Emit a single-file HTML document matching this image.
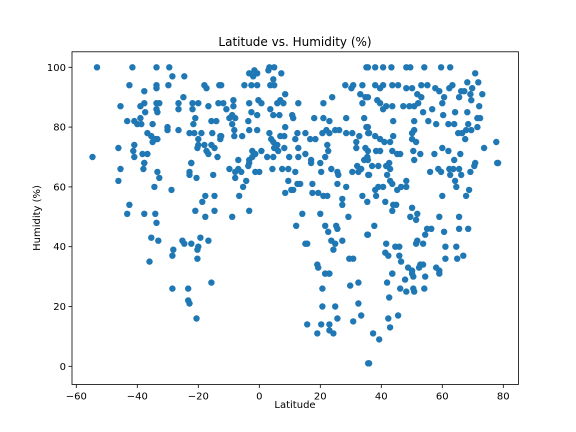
<!DOCTYPE html>
<html><head><meta charset="utf-8"><style>
html,body{margin:0;padding:0;background:#fff;}
svg{display:block;font-family:"DejaVu Sans","Liberation Sans",sans-serif;}
</style></head><body>
<svg id="chart" width="576" height="432" viewBox="0 0 576 432">
<rect x="0" y="0" width="576" height="432" fill="#fff"/>
<text x="295" y="46" text-anchor="middle" font-size="12" fill="#000">Latitude vs. Humidity (%)</text>
<text x="295" y="408" text-anchor="middle" font-size="10" fill="#000">Latitude</text>
<text x="0" y="0" transform="translate(40,218) rotate(-90)" text-anchor="middle" font-size="10" fill="#000">Humidity (%)</text>
<g id="points"></g>
<g id="axes"></g>
</svg>
<script>
const xTicks = [-60,-40,-20,0,20,40,60,80];
const yTicks = [0,20,40,60,80,100];
const lats = [
-53.2,-41.6,-33.7,-29.5,-28.5,-24.6,-42.6,-33.7,-33.7,-29.8,-37.7,-18,-17.3,-13.1,-24.9,-45.5,-39,-37.7,-33.7,-32.8,-33.7,-33.4,-37.4,-26.5,-26.5,-21.9,-20,-21.9,-16.7,-13.4,-43.3,-41,-39,-40,-38.7,-35,-21,-21.6,-15.7,-14.1,-30.1,-30.1,-26.5,-36.7,-35.4,-34.1,-35,-33.4,-22.9,-21.3,-19,-20,-20,-18,-15.4,-15.7,-12.8,-12.8,-46.2,-41,-41.3,-38.3,-36.7,-54.7,-41,-20.3,-17.3,-16.7,-14.7,-13.7,-37.7,-22.3,
-1.6,-3.3,-0.7,-2,3.3,4.9,3,7.2,4.6,-4.9,-2.6,-0.7,3.6,4.9,35.1,28.2,30.8,33.8,30.2,-12.5,8.5,6.9,5.9,7.9,-0.3,0.7,-3.3,-8.5,-8.5,-11.8,-10.8,12.8,23.9,21,33.1,33.8,34.8,3.6,4.6,6.6,-2.6,-0.7,-8.9,-9.8,-7.9,-8.9,-3.6,10.8,11.1,18,21,23,28.5,34.4,8.5,-8.2,-3.3,-0.7,-12.5,-8.2,-5.6,3.3,6.9,8.2,12.5,15.1,11.8,16.7,18.4,20.7,22,23,24.9,26.2,28.5,30.5,32.8,35.1,35.7,3.9,4.6,5.9,4.9,6.2,8.2,12.8,15.1,22.3,22.6,31.8,31.8,34.8,-2.3,-1.3,0.7,2.6,4.6,9.8,12.8,17,21.6,-6.9,-3.3,-2.3,35.4,34.4,
35.6,38,40.6,43.3,48.2,49.5,54.1,59.6,62.6,70.8,68.2,71.8,69.8,38,40.6,39.6,43.6,45.5,48.2,50.1,53.1,55.1,57.7,59,62.3,63.3,66.2,67.2,69.2,73.1,65.5,69.5,35.6,38.7,39.6,41.6,40.6,43.6,47.2,49.2,50.8,52.1,53.1,51.8,60,60.6,53.7,56.7,60.3,64.2,68.2,72.1,71.5,72.4,43.9,50.8,55.4,58,62,63.9,68.5,71.5,35.6,36,38,39.6,41,42.9,43.9,50.8,50.1,50.1,51.4,65.2,66.5,67.8,69.5,67.5,77.7,73.7,38.3,39.6,43.6,45.2,46.2,50.5,52.8,57.4,60,62,65.9,63.9,50.8,42.6,78,70.8,35.6,35.6,
-45.5,-46.2,-38,-37.7,-33.4,-32.8,-34.4,-28.8,-22.3,-22.9,-22.9,-20.6,-15.1,-17.7,-14.7,-18.7,-42.6,-43.3,-37.7,-34.1,-33.7,-21,-14.7,-17.7,-35.4,-33.1,-25.2,-24.6,-22.3,-19.3,-16.7,-20,-20.3,-28.2,-28.5,-20.3,-36,
-9.8,-7.9,-6.9,-5.9,-7.9,-3.6,-3.3,-1.3,0,4.3,7.5,9.5,11.8,-4.3,-5.3,-6.6,9.5,12.5,13.4,10.5,11.1,8.5,17.4,17.4,19.3,21,22.3,17,20,20.3,23.6,25.6,25.9,25.6,28.5,27.2,27.2,30.5,32.1,33.4,32.5,35.7,33.8,35.4,-8.9,-3.3,14.1,20,12.1,21.6,22.6,25.2,25.6,29.2,23.6,24.9,27.2,24.3,15.7,15.1,35.4,29.5,30.8,19,19.3,21.6,22.9,
37,39,41.6,42.9,41.9,42.9,43.6,40.6,39,38,38.3,36,45.2,46.5,48.2,48.2,56,58.7,59.6,62.3,63.6,65.5,62.6,66.2,69.2,70.5,78.3,64.2,64.6,68.8,67.8,60,41.3,43.9,44.9,43.6,50.1,49.5,51.8,51.4,59,65.5,37.7,35.6,55,56.4,54.4,60.6,65.5,68.5,41.6,44.6,45.9,51.8,51.4,53.7,61,64.6,41.3,42.3,45.9,46.5,61,64.9,66.9,43.6,48.8,50.1,52.8,53.7,52.4,58,59,
-28.5,-23.3,-15.7,-23.3,-22.9,-20.6,
21.6,23,20.7,29.8,32.5,20.7,24.9,32.5,25.6,33.4,30.8,15.7,20.3,23,19,23,24.3,35.7,
43.6,41.9,47.8,50.1,50.5,54.4,59,46.2,48.2,50.5,50.8,54.1,42.6,42.3,45.5,42.9,37.3,39.3,36
];
const humidity = [
100,100,100,100,97,97,94,94,93,94,92,94,93,94,90,87,87,88,88,88,86,85,85,88,86,88,88,86,87,88,82,82,83,81,81,81,83,81,82,82,80,79,79,78,77,76,75,76,78,78,78,76,74,74,78,74,77,76,73,74,72,71,71,70,70,73,72,71,73,70,68,68,
99,98,98,97,100,100,99,98,96,94,94,94,94,94,100,94,94,94,93,94,91,89,88,88,89,88,88,89,87,88,86,88,90,88,91,88,90,86,84,84,85,84,84,83,83,81,82,84,83,83,83,82,83,83,80,79,79,79,77,77,77,78,77,77,78,78,76,76,76,78,79,78,79,79,78,78,77,80,78,76,75,74,73,72,73,73,71,74,72,75,73,73,72,71,72,70,70,70,70,69,70,69,69,70,70,69,
100,100,100,100,100,100,100,100,100,98,95,95,93,94,94,93,94,94,93,93,94,94,93,92,93,94,92,92,91,91,90,89,90,89,88,87,86,87,87,87,87,88,90,91,88,90,85,86,84,85,85,87,83,83,82,82,82,81,81,81,81,80,80,78,77,76,75,75,77,79,78,76,75,78,78,79,79,76,75,73,72,72,72,71,71,72,71,71,73,72,71,69,69,68,68,68,72,69,
66,62,66,68,65,63,60,59,68,65,64,63,64,57,57,55,54,51,51,51,48,52,52,50,43,42,42,41,41,43,42,40,39,39,37,36,35,
66,65,66,65,63,67,68,65,65,66,66,66,65,62,60,57,62,61,61,59,59,58,61,58,58,57,57,68,68,65,66,65,64,61,60,56,54,65,67,66,65,64,57,55,50,52,51,51,47,47,45,47,46,50,42,41,42,39,41,41,44,36,36,34,33,31,31,
67,67,67,66,64,62,61,60,60,59,57,64,59,60,60,62,65,66,65,66,66,66,64,64,65,67,68,62,60,59,57,57,55,54,54,52,53,50,51,49,50,50,47,44,46,46,44,45,46,46,41,40,40,42,41,41,40,40,38,37,37,35,36,36,37,31,33,32,34,34,33,33,32,
26,26,28,22,21,16,
31,31,26,27,28,20,20,21,16,17,15,14,14,14,11,12,11,1,
31,28,29,31,30,30,31,26,25,26,25,26,23,16,17,13,11,9,1
];
const NS='http://www.w3.org/2000/svg';
const X0=72, X1=518.4, Y0=51.8, Y1=384.5;
function xScale(v){return 259.3+3.05*v;}
function yScale(v){return 366.3-2.99*v;}
const pg=document.getElementById('points');
for(let i=0;i<Math.min(lats.length,humidity.length);i++){
  const c=document.createElementNS(NS,'circle');
  c.setAttribute('cx',xScale(lats[i]).toFixed(1));
  c.setAttribute('cy',yScale(humidity[i]).toFixed(1));
  c.setAttribute('r','3.2');
  c.setAttribute('fill','#1f77b4');
  
  
  pg.appendChild(c);
}
const ag=document.getElementById('axes');
const frame=document.createElementNS(NS,'rect');
frame.setAttribute('x',X0);frame.setAttribute('y',Y0);
frame.setAttribute('width',X1-X0);frame.setAttribute('height',Y1-Y0);
frame.setAttribute('fill','none');frame.setAttribute('stroke','#000');frame.setAttribute('stroke-width','0.8');


ag.appendChild(frame);
xTicks.forEach(t=>{
  const x=xScale(t);
  const l=document.createElementNS(NS,'line');
  l.setAttribute('x1',x);l.setAttribute('x2',x);l.setAttribute('y1',Y1);l.setAttribute('y2',Y1+3.5);
  l.setAttribute('stroke','#000');l.setAttribute('stroke-width','0.8');
  
  
  ag.appendChild(l);
  const tx=document.createElementNS(NS,'text');
  tx.setAttribute('x',x);tx.setAttribute('y',Y1+15);tx.setAttribute('text-anchor','middle');tx.setAttribute('font-size','10');
  tx.textContent=t<0?'\u2212'+Math.abs(t):String(t);
  
  
  ag.appendChild(tx);
});
yTicks.forEach(t=>{
  const y=yScale(t);
  const l=document.createElementNS(NS,'line');
  l.setAttribute('x1',X0-3.5);l.setAttribute('x2',X0);l.setAttribute('y1',y);l.setAttribute('y2',y);
  l.setAttribute('stroke','#000');l.setAttribute('stroke-width','0.8');
  
  
  ag.appendChild(l);
  const tx=document.createElementNS(NS,'text');
  tx.setAttribute('x',X0-6);tx.setAttribute('y',y+3.5);tx.setAttribute('text-anchor','end');tx.setAttribute('font-size','10');
  tx.textContent=String(t);
  
  
  ag.appendChild(tx);
});
</script>
</body></html>
